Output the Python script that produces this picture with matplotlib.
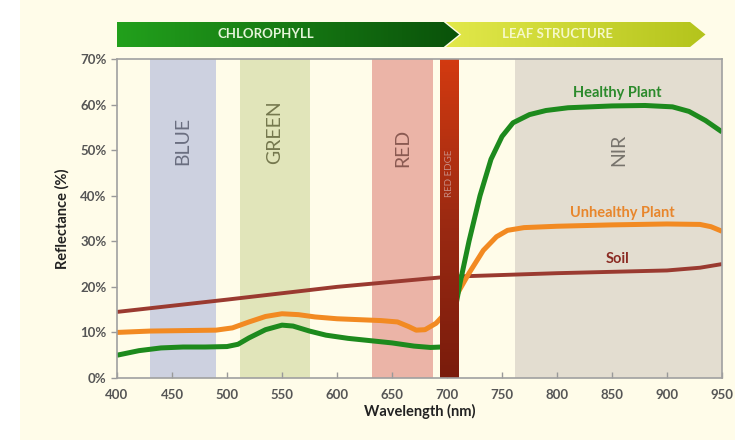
import numpy as np
import matplotlib
matplotlib.use('Agg')
import matplotlib.pyplot as plt
from matplotlib.patches import Polygon, Rectangle
from matplotlib.colors import LinearSegmentedColormap

plt.rcParams['font.family'] = ['Lato', 'DejaVu Sans']

# spectral bands (nm)
band_names = ['BLUE', 'GREEN', 'RED', 'NIR']
band_ranges = [(430, 490), (512, 575), (632, 687), (762, 950)]
band_colors = ['#cdd1e0', '#e1e5ba', '#ebb4a7', '#e3ddd0']
band_text_colors = ['#6a6e80', '#75784e', '#8a5a52', '#77736c']
band_label_y = [52, 54, 50.5, 50]
red_edge = (694, 711)

# reflectance curves
healthy_wl = [400, 420, 440, 460, 480, 500, 510, 520, 535, 550, 560, 575, 590, 610, 630, 650,
              670, 685, 695, 700, 705, 712, 720, 730, 740, 750, 760, 775, 790, 810, 850, 880,
              905, 920, 935, 950]
healthy = [5.0, 6.0, 6.6, 6.8, 6.8, 6.9, 7.4, 8.8, 10.6, 11.6, 11.4, 10.3, 9.4, 8.7, 8.2, 7.7,
           7.0, 6.7, 6.8, 8.0, 12.0, 21.0, 30.0, 40.0, 48.0, 53.0, 56.0, 57.8, 58.7, 59.3, 59.7,
           59.8, 59.5, 58.5, 56.5, 54.0]

unhealthy_wl = [400, 430, 460, 490, 505, 520, 535, 550, 565, 580, 600, 620, 640, 655, 665, 672,
                680, 690, 697, 705, 712, 720, 733, 745, 755, 770, 800, 850, 900, 930, 940, 950]
unhealthy = [10.0, 10.3, 10.4, 10.5, 11.0, 12.3, 13.5, 14.1, 13.9, 13.4, 13.0, 12.8, 12.6, 12.3,
             11.3, 10.5, 10.6, 12.0, 13.8, 16.5, 19.6, 23.0, 28.0, 31.0, 32.4, 33.0, 33.3, 33.6,
             33.8, 33.7, 33.2, 32.2]

soil_wl = [400, 500, 600, 700, 800, 900, 930, 950]
soil = [14.5, 17.2, 20.0, 22.2, 23.0, 23.6, 24.2, 25.0]

curve_colors = {'healthy': '#1d8a1d', 'unhealthy': '#f28a22', 'soil': '#9a3a30'}

fig = plt.figure(figsize=(7.35, 4.4), dpi=100)
fig.patch.set_facecolor('#fffce9')
fig.patches.append(Rectangle((0, 0), 20 / 735, 1, transform=fig.transFigure,
                             facecolor='white', edgecolor='none', zorder=0))

ax = fig.add_axes([117 / 735, 62 / 440, 605 / 735, 319 / 440])
ax.set_facecolor('#fffce9')

for name, (a, b), c, tc, ly in zip(band_names, band_ranges, band_colors, band_text_colors,
                                   band_label_y):
    ax.axvspan(a, b, color=c, zorder=1, lw=0)
    ax.text((a + b) / 2, ly, name, rotation=90, ha='center', va='center', fontsize=14,
            color=tc, zorder=2)

# red edge bar with vertical gradient
re_cmap = LinearSegmentedColormap.from_list('re', ['#7a1c0c', '#9c2a12', '#d23a10'])
ax.imshow(np.linspace(0, 1, 100).reshape(-1, 1), cmap=re_cmap, origin='lower', aspect='auto',
          extent=[red_edge[0], red_edge[1], 0, 70], zorder=5)
ax.text(sum(red_edge) / 2, 45, 'RED EDGE', rotation=90, ha='center', va='center', fontsize=7,
        color='#c88a80', zorder=6)

ax.plot(soil_wl, soil, color=curve_colors['soil'], lw=2.8, zorder=3, solid_capstyle='butt')
ax.plot(unhealthy_wl, unhealthy, color=curve_colors['unhealthy'], lw=3.6, zorder=4,
        solid_capstyle='butt')
ax.plot(healthy_wl, healthy, color=curve_colors['healthy'], lw=3.6, zorder=4,
        solid_capstyle='butt')

ax.text(855, 62.5, 'Healthy Plant', color='#2c8a2c', fontsize=10.5, fontweight='bold',
        ha='center', va='center', zorder=6)
ax.text(859, 36.3, 'Unhealthy Plant', color='#e8862c', fontsize=10.5, fontweight='bold',
        ha='center', va='center', zorder=6)
ax.text(855, 26.2, 'Soil', color='#8a2a22', fontsize=10.5, fontweight='bold',
        ha='center', va='center', zorder=6)

ax.set_xlim(400, 950)
ax.set_ylim(0, 70)
ax.set_xticks(np.arange(400, 951, 50))
ax.set_yticks(np.arange(0, 71, 10))
ax.set_yticklabels([f'{v}%' for v in range(0, 71, 10)])
ax.tick_params(axis='both', colors='#999999', labelcolor='#555555', labelsize=9.5, length=4,
               width=1)
ax.tick_params(axis='x', direction='in', pad=8)
for lab in ax.get_xticklabels() + ax.get_yticklabels():
    lab.set_fontweight('bold')
for sp in ax.spines.values():
    sp.set_color('#a0a0a0')
    sp.set_linewidth(1.2)
    sp.set_zorder(9)

ax.set_xlabel('Wavelength (nm)', fontsize=10.5, fontweight='bold', color='#222222', labelpad=2)
ax.set_ylabel('Reflectance (%)', fontsize=10.5, fontweight='bold', color='#222222', labelpad=8)

# top banner arrows, in their own axes sharing the wavelength scale
bx = fig.add_axes([117 / 735, 393 / 440, 605 / 735, 25 / 440])
bx.set_xlim(400, 950)
bx.set_ylim(0, 1)
bx.axis('off')


def gradient_arrow(xy, c0, c1):
    poly = Polygon(xy, closed=True, facecolor='none', edgecolor='none')
    bx.add_patch(poly)
    xs = [p[0] for p in xy]
    cm = LinearSegmentedColormap.from_list('g', [c0, c1])
    im = bx.imshow(np.linspace(0, 1, 200).reshape(1, -1), cmap=cm, aspect='auto',
                   extent=[min(xs), max(xs), 0, 1], zorder=2)
    im.set_clip_path(poly)


gradient_arrow([(400, 0), (697, 0), (711, 0.5), (697, 1), (400, 1)], '#22a01c', '#0a520a')
gradient_arrow([(699, 0), (921, 0), (935, 0.5), (921, 1), (699, 1), (713, 0.5)],
               '#e2e84a', '#b4c41c')
bx.set_xlim(400, 950)
bx.set_ylim(0, 1)
bx.text(535, 0.5, 'CHLOROPHYLL', color='#e4f4d8', fontsize=9.5, fontweight='bold',
        ha='center', va='center', zorder=3)
bx.text(800, 0.5, 'LEAF STRUCTURE', color='#f6f8c8', fontsize=9.5, fontweight='bold',
        ha='center', va='center', zorder=3)

fig.savefig('out.png', dpi=100, facecolor=fig.get_facecolor())
